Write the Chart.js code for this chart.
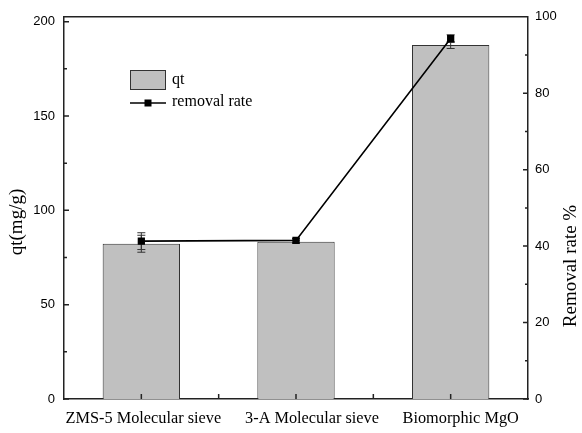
<!DOCTYPE html>
<html>
<head>
<meta charset="utf-8">
<script src="https://cdn.jsdelivr.net/npm/chart.js@4.4.1/dist/chart.umd.min.js"></script>
<style>
  html, body { margin: 0; padding: 0; background: #fff; }
  #wrap { width: 582px; height: 433px; }
</style>
</head>
<body>
<div id="wrap"><canvas id="chart" width="582" height="433"></canvas></div>
<script>
// --- Data ---
const categories = ['ZMS-5 Molecular sieve', '3-A Molecular sieve', 'Biomorphic MgO'];
const qtValues = [82.3, 83.4, 187.6];          // mg/g
const qtErrors = [4.5, 0.8, 1.8];
const removalRate = [41.3, 41.5, 94.3];         // %
const removalErrors = [2.2, 0.5, 1.0];
const qtTicks = [0, 50, 100, 150, 200];
const rateTicks = [0, 20, 40, 60, 80, 100];

const AXIS = '#222';
const SERIF = "'Liberation Serif', 'Times New Roman', serif";
const SANS = "'Liberation Sans', Arial, sans-serif";
// category labels sit a little right of their tick
const LABEL_NUDGE = [2, 16, 10];

// error bars drawn right after the bars, so the line + markers sit on top
const errorBars = {
    id: 'errorBars',
    afterDatasetDraw(chart, args) {
        if (args.index !== 0) return;
        const { ctx, scales } = chart;
        const meta = chart.getDatasetMeta(0);
        ctx.save();
        ctx.strokeStyle = '#333';
        ctx.lineWidth = 1;
        const drawErr = (x, scale, v, e) => {
            const yTop = scale.getPixelForValue(v + e);
            const yBot = scale.getPixelForValue(v - e);
            ctx.beginPath();
            ctx.moveTo(x, yTop); ctx.lineTo(x, yBot);
            ctx.moveTo(x - 4, yTop); ctx.lineTo(x + 4, yTop);
            ctx.moveTo(x - 4, yBot); ctx.lineTo(x + 4, yBot);
            ctx.stroke();
        };
        meta.data.forEach((bar, i) => {
            drawErr(bar.x, scales.y, qtValues[i], qtErrors[i]);
            drawErr(bar.x, scales.y1, removalRate[i], removalErrors[i]);
        });
        ctx.restore();
    }
};

// frame, inward ticks, category labels, axis titles and the legend
const frame = {
    id: 'frame',
    afterDraw(chart) {
        const { ctx, chartArea: a, scales } = chart;
        ctx.save();
        ctx.strokeStyle = AXIS;
        ctx.lineWidth = 1.5;
        ctx.beginPath();
        ctx.moveTo(a.left, a.top); ctx.lineTo(a.right, a.top);
        // left axis: major every 50, minor every 25
        for (let v = 0; v <= 200; v += 25) {
            const y = scales.y.getPixelForValue(v);
            ctx.moveTo(a.left, y); ctx.lineTo(a.left + (v % 50 === 0 ? 5 : 3), y);
        }
        // right axis: major every 20, minor every 10
        for (let v = 0; v <= 100; v += 10) {
            const y = scales.y1.getPixelForValue(v);
            ctx.moveTo(a.right, y); ctx.lineTo(a.right - (v % 20 === 0 ? 5 : 3), y);
        }
        // bottom axis: at category centres and between them
        for (let i = 0; i < categories.length; i++) {
            const x = scales.x.getPixelForValue(i);
            ctx.moveTo(x, a.bottom); ctx.lineTo(x, a.bottom - 5);
            if (i < categories.length - 1) {
                const xm = (x + scales.x.getPixelForValue(i + 1)) / 2;
                ctx.moveTo(xm, a.bottom); ctx.lineTo(xm, a.bottom - 5);
            }
        }
        ctx.stroke();

        ctx.fillStyle = '#000';
        ctx.textAlign = 'center';
        ctx.textBaseline = 'middle';

        // category labels
        ctx.font = '16.3px ' + SERIF;
        categories.forEach((c, i) => {
            ctx.fillText(c, scales.x.getPixelForValue(i) + LABEL_NUDGE[i], a.bottom + 20);
        });

        // axis titles, both reading bottom to top
        ctx.font = '19px ' + SERIF;
        ctx.save();
        ctx.translate(17, 222);
        ctx.rotate(-Math.PI / 2);
        ctx.fillText('qt(mg/g)', 0, 0);
        ctx.restore();
        ctx.save();
        ctx.translate(571, 266);
        ctx.rotate(-Math.PI / 2);
        ctx.fillText('Removal rate %', 0, 0);
        ctx.restore();

        // legend
        ctx.fillStyle = '#c0c0c0';
        ctx.fillRect(130, 70, 36, 20);
        ctx.lineWidth = 1;
        ctx.strokeStyle = '#333';
        ctx.strokeRect(130.5, 70.5, 35, 19);
        ctx.strokeStyle = '#000';
        ctx.lineWidth = 1.6;
        ctx.beginPath();
        ctx.moveTo(130, 103); ctx.lineTo(166, 103);
        ctx.stroke();
        ctx.fillStyle = '#000';
        ctx.fillRect(144.5, 99.5, 7, 7);
        ctx.font = '16px ' + SERIF;
        ctx.textAlign = 'left';
        ctx.fillText('qt', 172, 80);
        ctx.fillText('removal rate', 172, 102);
        ctx.restore();
    }
};

const ctx = document.getElementById('chart').getContext('2d');
new Chart(ctx, {
    data: {
        labels: categories,
        datasets: [
            {
                type: 'bar',
                label: 'qt',
                data: qtValues,
                yAxisID: 'y',
                backgroundColor: '#c0c0c0',
                borderColor: '#333',
                borderWidth: 1,
                barPercentage: 0.5,
                categoryPercentage: 1,
                order: 1
            },
            {
                type: 'line',
                label: 'removal rate',
                data: removalRate,
                yAxisID: 'y1',
                borderColor: '#000',
                borderWidth: 1.6,
                pointStyle: 'rect',
                pointRadius: 4,
                pointBackgroundColor: '#000',
                pointBorderColor: '#000',
                tension: 0,
                order: 0
            }
        ]
    },
    options: {
        responsive: false,
        animation: false,
        layout: { padding: { top: 16, left: 0, right: 0, bottom: 0 } },
        plugins: { legend: { display: false }, tooltip: { enabled: false } },
        scales: {
            x: {
                offset: true,
                grid: { display: false, drawTicks: false },
                border: { display: true, color: AXIS, width: 1.5 },
                ticks: { display: false },
                afterFit(s) { s.height = 34; }
            },
            y: {
                position: 'left',
                min: 0,
                max: 202.6,
                afterBuildTicks(s) { s.ticks = qtTicks.map(v => ({ value: v })); },
                grid: { display: false, drawTicks: false },
                border: { display: true, color: AXIS, width: 1.5 },
                ticks: { color: '#000', font: { family: SANS, size: 13 }, padding: 9 },
                afterFit(s) { s.width = 64; }
            },
            y1: {
                position: 'right',
                min: 0,
                max: 100,
                afterBuildTicks(s) { s.ticks = rateTicks.map(v => ({ value: v })); },
                grid: { display: false, drawTicks: false },
                border: { display: true, color: AXIS, width: 1.5 },
                ticks: { color: '#000', font: { family: SANS, size: 13 }, padding: 7 },
                afterFit(s) { s.width = 54; }
            }
        }
    },
    plugins: [errorBars, frame]
});
</script>
</body>
</html>
